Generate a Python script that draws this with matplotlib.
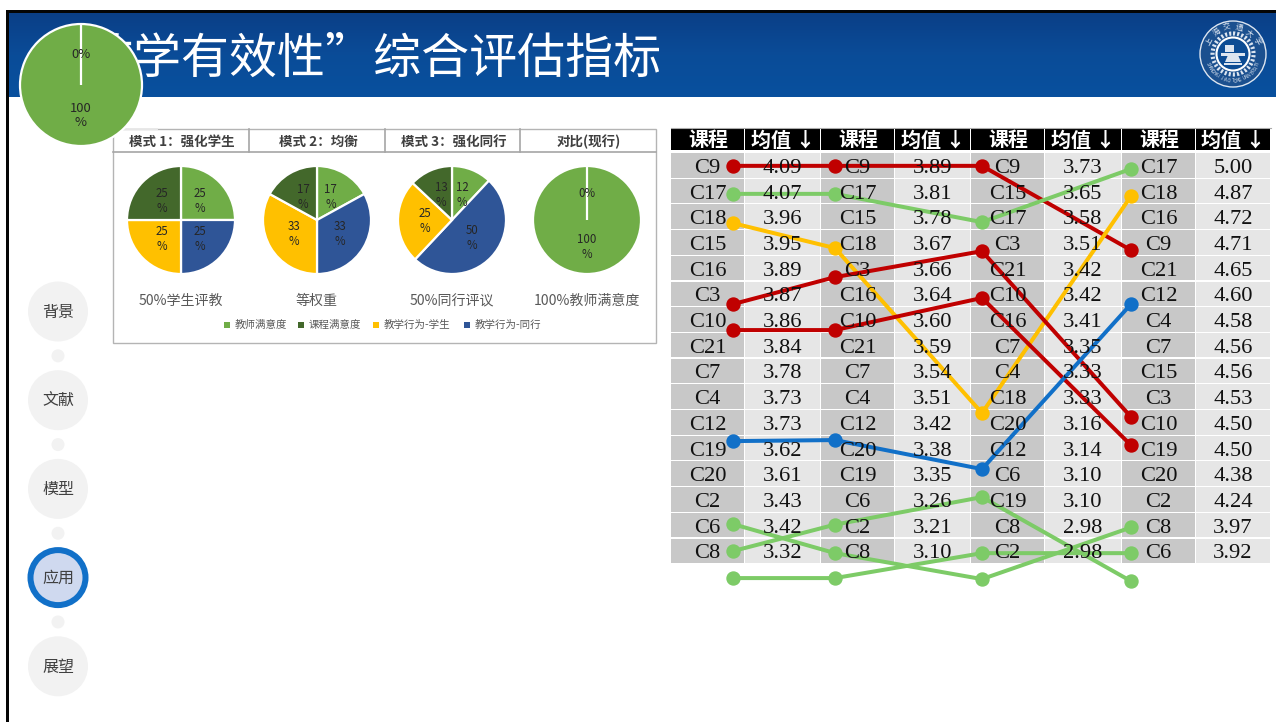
#slide with pies and ranking table
import math
import numpy as np
import matplotlib
matplotlib.use("Agg")
import matplotlib.pyplot as plt
from matplotlib.colors import LinearSegmentedColormap
from matplotlib.patches import Rectangle, Circle, Polygon

plt.rcParams['font.family'] = ['Noto Sans CJK SC', 'DejaVu Sans']

W, H = 1276, 722

# --- data ---
title = "“教学有效性”综合评估指标"
nav_items = ["背景", "文献", "模型", "应用", "展望"]
active_nav = "应用"

mode_titles = ["模式 1：强化学生", "模式 2：均衡", "模式 3：强化同行", "对比(现行)"]
pie_names = ["50%学生评教", "等权重", "50%同行评议", "100%教师满意度"]
pie_teacher = [25, 17, 12, 100]
pie_behavior_peer = [25, 33, 50, 0]
pie_behavior_student = [25, 33, 25, 0]
pie_course = [25, 17, 13, 0]
legend_labels = ["教师满意度", "课程满意度", "教学行为-学生", "教学行为-同行"]
legend_colors = ["#70AD47", "#43682B", "#FFC000", "#2F5597"]

col_header = ["课程", "均值 ↓"]
courses_1 = ["C9", "C17", "C18", "C15", "C16", "C3", "C10", "C21", "C7", "C4", "C12", "C19", "C20", "C2", "C6", "C8"]
means_1 = ["4.09", "4.07", "3.96", "3.95", "3.89", "3.87", "3.86", "3.84", "3.78", "3.73", "3.73", "3.62", "3.61", "3.43", "3.42", "3.32"]
courses_2 = ["C9", "C17", "C15", "C18", "C3", "C16", "C10", "C21", "C7", "C4", "C12", "C20", "C19", "C6", "C2", "C8"]
means_2 = ["3.89", "3.81", "3.78", "3.67", "3.66", "3.64", "3.60", "3.59", "3.54", "3.51", "3.42", "3.38", "3.35", "3.26", "3.21", "3.10"]
courses_3 = ["C9", "C15", "C17", "C3", "C21", "C10", "C16", "C7", "C4", "C18", "C20", "C12", "C6", "C19", "C8", "C2"]
means_3 = ["3.73", "3.65", "3.58", "3.51", "3.42", "3.42", "3.41", "3.35", "3.33", "3.33", "3.16", "3.14", "3.10", "3.10", "2.98", "2.98"]
courses_4 = ["C17", "C18", "C16", "C9", "C21", "C12", "C4", "C7", "C15", "C3", "C10", "C19", "C20", "C2", "C8", "C6"]
means_4 = ["5.00", "4.87", "4.72", "4.71", "4.65", "4.60", "4.58", "4.56", "4.56", "4.53", "4.50", "4.50", "4.38", "4.24", "3.97", "3.92"]

# rank lines as they sit on the table, in row units (0 = first row)
rank_c9 = [0.0, 0.0, 0.0, 3.28]
rank_c17 = [1.09, 1.09, 2.19, 0.12]
rank_c18 = [2.23, 3.2, 9.62, 1.18]
rank_c3 = [5.38, 4.33, 3.32, 9.77]
rank_c10 = [6.39, 6.39, 5.14, 10.87]
rank_c19 = [10.71, 10.67, 11.8, 5.38]
rank_c6 = [13.94, 15.07, 16.08, 14.07]
rank_c2 = [14.99, 13.96, 12.89, 16.16]
rank_c8 = [16.04, 16.04, 15.07, 15.07]

fig = plt.figure(figsize=(W / 100, H / 100), dpi=100)
ax = fig.add_axes([0, 0, 1, 1])
ax.axis("off")


def px(v):
    return v * 0.72


# --- frame and title band ---
band_cmap = LinearSegmentedColormap.from_list("band", ["#0B3F87", "#0A4C98", "#08509E"])
ax.imshow(np.linspace(0, 1, 84).reshape(-1, 1), cmap=band_cmap, extent=(6, W, 97, 13), aspect="auto")
ax.set_xlim(0, W)
ax.set_ylim(H, 0)
ax.add_patch(Rectangle((6, 10), W - 6, 3, color="#050505", lw=0))
ax.add_patch(Rectangle((6, 10), 3, H - 10, color="#050505", lw=0))
ax.text(661, 59, title, color="white", fontsize=px(48), fontweight="light", ha="right", va="center")

# --- logo ---
lx, ly = 1233, 54
logo_ink = "#DCE5F0"
ax.add_patch(Circle((lx, ly), 33, fc="#1B508F", ec=logo_ink, lw=1))
ax.add_patch(Circle((lx, ly), 20.5, fc="none", ec=logo_ink, lw=3, ls=(0, (0.5, 0.5))))
ax.add_patch(Circle((lx, ly), 16.5, fc="#0C4C94", ec="white", lw=1.5))
for i, ch in enumerate("上海交通大学"):
    a = math.radians(-62 + i * 24.8)
    ax.text(lx + 27 * math.sin(a), ly - 27 * math.cos(a), ch, color=logo_ink,
            fontsize=5.5, ha="center", va="center", rotation=-math.degrees(a))
for i, ch in enumerate("SHANGHAI JIAO TONG UNIVERSITY"):
    a = math.radians(250 - i * 140 / 28)
    ax.text(lx + 27 * math.sin(a), ly - 27 * math.cos(a), ch, color=logo_ink,
            fontsize=3.2, ha="center", va="center", rotation=180 - math.degrees(a))
ax.add_patch(Rectangle((lx - 12, ly - 1), 24, 2.5, color=logo_ink, lw=0))
ax.add_patch(Rectangle((lx - 8, ly - 9), 9, 7, color=logo_ink, lw=0))
ax.add_patch(Polygon([(lx - 5, ly + 1), (lx + 5, ly + 1), (lx + 8, ly + 8), (lx - 8, ly + 8)], color=logo_ink, lw=0))
ax.add_patch(Rectangle((lx - 9, ly + 9), 18, 1.6, color=logo_ink, lw=0))

# --- side navigation ---
nav_x = 58
nav_y0, nav_step = 311.5, 88.7
for i, name in enumerate(nav_items):
    y = nav_y0 + i * nav_step
    if name == active_nav:
        ax.add_patch(Circle((nav_x, y), 27.5, fc="#CFD9EF", ec="#1170C8", lw=px(6)))
    else:
        ax.add_patch(Circle((nav_x, y), 30, fc="#F2F2F2", ec="none"))
    ax.text(nav_x, y + 1, name, color="#404040", fontsize=px(16), ha="center", va="center")
    if i < len(nav_items) - 1:
        ax.add_patch(Circle((nav_x, y + nav_step / 2), 6.5, fc="#F2F2F2", ec="none"))

# --- pie panel ---
p_left, p_right, p_top, p_head, p_bot = 113, 656, 129, 152, 343
ax.add_patch(Rectangle((p_left, p_top), p_right - p_left, p_bot - p_top, fc="white", ec="#B4B4B4", lw=1))
ax.plot([p_left, 157], [p_top, p_top], color="#E8E8E8", lw=1.4)
ax.plot([p_left, p_right], [p_head, p_head], color="#A6A6A6", lw=1.2)
dividers = [113, 249, 385, 520, 656]
for d in dividers[1:-1]:
    ax.plot([d, d], [p_top, p_head], color="#A6A6A6", lw=1.2)
for d0, d1, t in zip(dividers[:-1], dividers[1:], mode_titles):
    ax.text((d0 + d1) / 2 + 1, 142, t, color="#404040", fontsize=px(13.5), fontweight="bold",
            ha="center", va="center")

pie_x = [181, 317, 452, 587]
pie_y, pie_r = 220, 54


def draw_pie(cx, cy, r, values, colors, size):
    box = 1.25 * r
    a = fig.add_axes([(cx - box) / W, 1 - (cy + box) / H, 2 * box / W, 2 * box / H], zorder=3)
    a.pie(values, colors=colors, startangle=90, counterclock=False,
          autopct=lambda p: f"{p:.0f}\n%" if p > 0 else "0%", pctdistance=0.5,
          wedgeprops=dict(edgecolor="white", linewidth=1.6),
          textprops=dict(fontsize=px(size), color="#262626", linespacing=1.2))
    return a


pie_colors = [legend_colors[0], legend_colors[3], legend_colors[2], legend_colors[1]]
for i, cx in enumerate(pie_x):
    if pie_teacher[i] == 100:
        vals, cols = [pie_teacher[i], pie_behavior_peer[i]], pie_colors[:2]
    else:
        vals = [pie_teacher[i], pie_behavior_peer[i], pie_behavior_student[i], pie_course[i]]
        cols = pie_colors
    draw_pie(cx, pie_y, pie_r, vals, cols, 11.5)
    ax.text(cx, 301, pie_names[i], color="#595959", fontsize=px(14), ha="center", va="center")

legend_marks = [227, 301, 376, 467]
for mx, lab, col in zip(legend_marks, legend_labels, legend_colors):
    ax.add_patch(Rectangle((mx - 3, 322), 6, 6, color=col, lw=0))
    ax.text(mx + 8, 325, lab, color="#595959", fontsize=px(10.5), ha="left", va="center")

# --- ranking table ---
col_edges = [671, 745, 821, 895, 971, 1045, 1122, 1196, 1271]
row_top, row_h = 153, 25.7
course_cols = [courses_1, courses_2, courses_3, courses_4]
mean_cols = [means_1, means_2, means_3, means_4]
ax.plot([671, 1271], [127.5, 127.5], color="#AAAAAA", lw=0.8)
for c in range(8):
    x0, x1 = col_edges[c], col_edges[c + 1]
    ax.add_patch(Rectangle((x0, 128), x1 - x0 - 1.5, 22, color="black", lw=0))
    ax.text((x0 + x1) / 2, 140, col_header[c % 2], color="white", fontsize=px(20),
            fontweight="bold", ha="center", va="center")
    column = course_cols[c // 2] if c % 2 == 0 else mean_cols[c // 2]
    shade = "#C8C8C8" if c % 2 == 0 else "#E6E6E6"
    for r, val in enumerate(column):
        y = row_top + r * row_h
        ax.add_patch(Rectangle((x0, y), x1 - x0 - 1.2, row_h - 1.2, color=shade, lw=0))
        ax.text((x0 + x1) / 2 - 0.5, y + row_h / 2 + 2.5, val, color="#111111", fontsize=px(22.5),
                family="Liberation Serif", ha="center", va="center")

line_x = [733, 835, 982, 1131]
rank_lines = [
    (rank_c9, "#C00000"), (rank_c17, "#7DCB67"), (rank_c18, "#FFC000"),
    (rank_c3, "#C00000"), (rank_c10, "#C00000"), (rank_c19, "#1170C8"),
    (rank_c6, "#7DCB67"), (rank_c2, "#7DCB67"), (rank_c8, "#7DCB67"),
]
for ranks, col in rank_lines:
    ys = [row_top + row_h / 2 + r * row_h for r in ranks]
    ax.plot(line_x, ys, color=col, lw=px(4), marker="o", markersize=px(13), solid_capstyle="round")

# --- big pie sitting over the title ---
draw_pie(81, 85, 61, [100, 0], pie_colors[:2], 13)

fig.savefig("out.png", dpi=100)
